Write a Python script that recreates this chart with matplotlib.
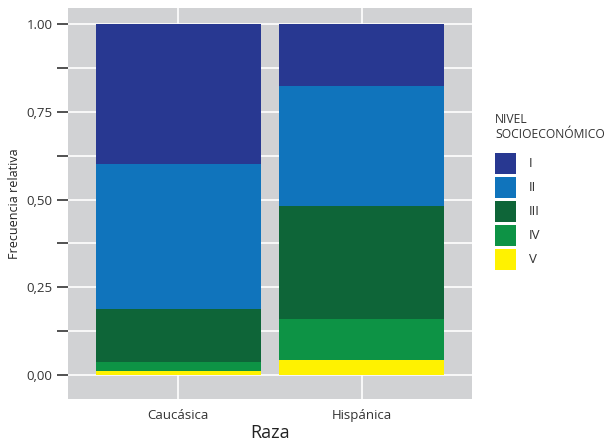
import matplotlib
matplotlib.use("Agg")
import matplotlib.pyplot as plt
from matplotlib.patches import Rectangle
from matplotlib.ticker import FixedLocator
import numpy as np

plt.rcParams['font.family'] = ['Open Sans', 'DejaVu Sans']

categories = ["Caucásica", "Hispánica"]
levels = ["I", "II", "III", "IV", "V"]
# relative frequencies per level (I..V) for each category
freq_caucasica = [0.398, 0.414, 0.152, 0.025, 0.011]
freq_hispanica = [0.175, 0.343, 0.323, 0.117, 0.042]
colors = ["#283891", "#1074bc", "#0e6538", "#0d9345", "#fff200"]
ytick_vals = [0.0, 0.25, 0.5, 0.75, 1.0]
ytick_labels = ["0,00", "0,25", "0,50", "0,75", "1.00"]

data = np.array([freq_caucasica, freq_hispanica])  # shape (2,5)

W, H = 614, 442
fig = plt.figure(figsize=(W/100, H/100), dpi=100)
ax = fig.add_axes([68/W, 1 - 399/H, (472-68)/W, (399-8)/H])
ax.set_facecolor("#d1d2d4")

x = np.arange(1, len(categories) + 1)
# stack with V at bottom, I at top
bottom = np.zeros(len(categories))
for j in range(len(levels) - 1, -1, -1):
    ax.bar(x, data[:, j], width=0.9, bottom=bottom, color=colors[j],
           edgecolor="none", zorder=3)
    bottom += data[:, j]

ax.set_xlim(0.4, 2.6)
ax.set_ylim(-0.069, 1.047)
ax.set_xticks(x)
ax.set_xticklabels(categories, fontsize=9.5, color="#333333")
ax.set_yticks(ytick_vals)
ax.set_yticklabels(ytick_labels, fontsize=9.5, color="#333333")
ax.yaxis.set_minor_locator(FixedLocator([0.125, 0.375, 0.625, 0.875]))
ax.tick_params(axis='y', which='both', length=8, width=1.2, color="#333333", pad=3)
ax.tick_params(axis='x', which='both', length=0, pad=7)

ax.grid(True, which='major', color="white", linewidth=1.2, zorder=0)
ax.grid(True, which='minor', axis='y', color="white", linewidth=1.2, zorder=0)
ax.set_axisbelow(True)
for s in ax.spines.values():
    s.set_visible(False)

ax.set_xlabel("Raza", fontsize=13, labelpad=1.5, color="#222222")
ax.set_ylabel("Frecuencia relativa", fontsize=9, labelpad=4, color="#222222")

# legend drawn in figure pixel coordinates
def fx(px):
    return px / W

def fy(py):
    return 1 - py / H

fig.text(fx(495), fy(113), "NIVEL\nSOCIOECONÓMICO", fontsize=8.7,
         color="#333333", ha="left", va="top", linespacing=1.25)
key_top = 153
for i, (lab, col) in enumerate(zip(levels, colors)):
    top = key_top + 24 * i
    fig.add_artist(Rectangle((fx(495), fy(top + 21)), 21 / W, 21 / H,
                             transform=fig.transFigure, facecolor=col,
                             edgecolor="none"))
    fig.text(fx(529), fy(top + 10.5), lab, fontsize=9.5, color="#333333",
             ha="left", va="center")

fig.savefig("out.png", dpi=100)
